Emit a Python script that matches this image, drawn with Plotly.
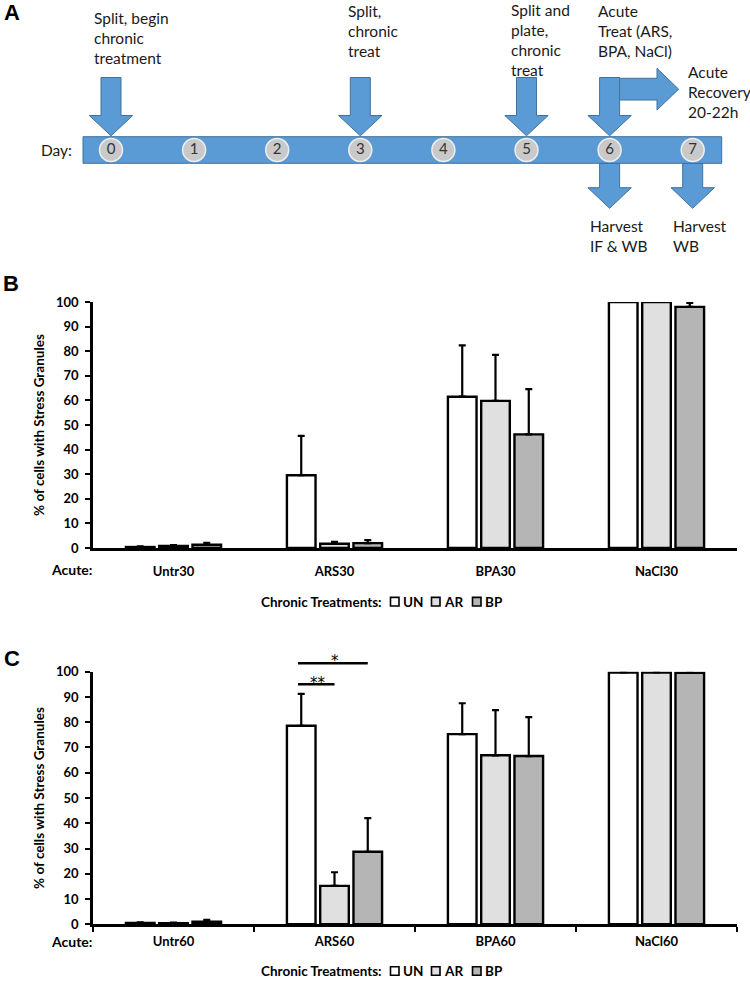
import plotly.graph_objects as go

W, H = 750, 987

# ---------------- data ----------------
days = [0, 1, 2, 3, 4, 5, 6, 7]
chronic_days = [0, 3, 5]
chronic_labels = ["Split, begin<br>chronic<br>treatment",
                  "Split,<br>chronic<br>treat",
                  "Split and<br>plate,<br>chronic<br>treat"]
acute_day = 6
acute_label = "Acute<br>Treat (ARS,<br>BPA, NaCl)"
recovery_label = "Acute<br>Recovery<br>20-22h"
harvest_days = [6, 7]
harvest_labels = ["Harvest<br>IF &amp; WB", "Harvest<br>WB"]

series = ["UN", "AR", "BP"]
series_colors = ["#FFFFFF", "#E0E0E0", "#B5B5B5"]

acute30 = ["Untr30", "ARS30", "BPA30", "NaCl30"]
un30 = [0.4, 29.6, 61.5, 100.0]
ar30 = [0.8, 1.7, 59.8, 100.0]
bp30 = [1.3, 2.0, 46.2, 98.0]
un30_err = [0.3, 16.0, 20.9, 0.0]
ar30_err = [0.4, 0.8, 18.7, 0.0]
bp30_err = [0.8, 1.2, 18.4, 1.6]

acute60 = ["Untr60", "ARS60", "BPA60", "NaCl60"]
un60 = [0.5, 78.6, 75.3, 99.7]
ar60 = [0.4, 15.2, 66.9, 99.7]
bp60 = [1.0, 28.7, 66.6, 99.6]
un60_err = [0.3, 12.6, 12.2, 0.0]
ar60_err = [0.3, 5.4, 17.9, 0.0]
bp60_err = [0.8, 13.3, 15.4, 0.0]

sig_category = "ARS60"
sig_pairs = [("UN", "AR", "**"), ("UN", "BP", "*")]
sig_levels = [95.0, 103.3]

yticks = list(range(0, 101, 10))

# ---------------- styling helpers ----------------
FONT = "Lato"
BLUE = "#5B9BD5"
BLUE_EDGE = "#41719C"
BARGAP = 0.38
BARGROUPGAP = 0.14


def xp(px):
    return px / W


def yp(py):
    return 1 - py / H


fig = go.Figure()

# ---------------- panel A: timeline ----------------
PPD = 83.1            # pixels per day
DAY0_PX = 111.0
A_H = 262.0
x3_range = [-DAY0_PX / PPD, (W - DAY0_PX) / PPD]


def dpx(px):
    return px / PPD


shapes = []
shapes.append(dict(type="rect", xref="x3", yref="y3", layer="below",
                   x0=days[0] - dpx(28), x1=days[-1] + dpx(29),
                   y0=136.7, y1=163.3,
                   fillcolor=BLUE, line=dict(color=BLUE_EDGE, width=1)))


def down_arrow(d, y_top, y_neck, y_tip, sw=10, hw=21.7):
    s, h = dpx(sw), dpx(hw)
    p = (f"M {d-s},{y_top} L {d+s},{y_top} L {d+s},{y_neck} L {d+h},{y_neck} "
         f"L {d},{y_tip} L {d-h},{y_neck} L {d-s},{y_neck} Z")
    return dict(type="path", xref="x3", yref="y3", path=p, layer="below",
                fillcolor=BLUE, line=dict(color=BLUE_EDGE, width=1))


d = acute_day
rb, rt = d + dpx(47.4), d + dpx(69)
p = (f"M {d},{78.3} L {rb},{78.3} L {rb},{68.3} L {rt},{89.2} "
     f"L {rb},{110} L {rb},{100} L {d},{100} Z")
shapes.append(dict(type="path", xref="x3", yref="y3", path=p, layer="below",
                   fillcolor=BLUE, line=dict(color=BLUE_EDGE, width=1)))

for dd in chronic_days + [acute_day]:
    shapes.append(down_arrow(dd, 77.5, 115.5, 135.8))
for dd in harvest_days:
    shapes.append(down_arrow(dd, 163.5, 187.7, 208.3))

fig.add_trace(go.Scatter(
    x=days, y=[150] * len(days), xaxis="x3", yaxis="y3",
    mode="markers+text", text=[str(v) for v in days],
    textposition="middle center",
    textfont=dict(family=FONT, size=15, color="#333333"),
    marker=dict(size=23, color="#C9C9C9", line=dict(color="#EEEEEE", width=1.5)),
    showlegend=False, hoverinfo="skip"))

annotations = []
TXT = dict(family=FONT, size=15.5, color="#1a1a1a")
label_tops = [7, 0, 0]
label_yshift = [0, 0, 1]
label_shift = [-19, -14, -18]
for dd, lab, top, ysh, sh in zip(chronic_days, chronic_labels, label_tops,
                                 label_yshift, label_shift):
    annotations.append(dict(x=dd, y=top, xref="x3", yref="y3", text=lab,
                            xanchor="left", yanchor="top", align="left",
                            xshift=sh, yshift=ysh, showarrow=False, font=TXT))
annotations.append(dict(x=acute_day, y=0, xref="x3", yref="y3", text=acute_label,
                        xanchor="left", yanchor="top", align="left", xshift=-14,
                        showarrow=False, font=TXT))
annotations.append(dict(x=acute_day, y=60.5, xref="x3", yref="y3", text=recovery_label,
                        xanchor="left", yanchor="top", align="left", xshift=76,
                        showarrow=False, font=TXT))
for dd, lab in zip(harvest_days, harvest_labels):
    annotations.append(dict(x=dd, y=215, xref="x3", yref="y3", text=lab,
                            xanchor="left", yanchor="top", align="left", xshift=-22,
                            showarrow=False, font=TXT))
annotations.append(dict(x=days[0], y=150, xref="x3", yref="y3", text="Day:",
                        xanchor="right", yanchor="middle", xshift=-37,
                        showarrow=False, font=TXT))

for letter, px_, py_ in [("A", 12, 13), ("B", 11, 283), ("C", 12, 658)]:
    annotations.append(dict(x=xp(px_), y=yp(py_), xref="paper", yref="paper",
                            text=letter, showarrow=False, xanchor="center",
                            yanchor="middle",
                            font=dict(family="Liberation Sans", size=22,
                                      color="black", weight="bold")))

# ---------------- panels B & C: bars ----------------
panels = [
    dict(cats=acute30, vals=[un30, ar30, bp30], errs=[un30_err, ar30_err, bp30_err],
         xa="x", ya="y", axis_px=548.0, top_px=302.0, acute_py=569, legend_py=601.7),
    dict(cats=acute60, vals=[un60, ar60, bp60], errs=[un60_err, ar60_err, bp60_err],
         xa="x2", ya="y2", axis_px=924.3, top_px=671.7, acute_py=941, legend_py=971),
]

for pn in panels:
    for s, col, v, e in zip(series, series_colors, pn["vals"], pn["errs"]):
        fig.add_trace(go.Bar(
            x=pn["cats"], y=v, name=s, xaxis=pn["xa"], yaxis=pn["ya"],
            marker=dict(color=col, line=dict(color="black", width=2.4)),
            error_y=dict(type="data", array=e, arrayminus=[0] * len(e),
                         symmetric=False, color="black", thickness=2.2, width=3.5),
            cliponaxis=False, showlegend=False))

    annotations.append(dict(x=xp(71), y=yp(pn["acute_py"]), xref="paper", yref="paper",
                            text="Acute:", showarrow=False, xanchor="center",
                            yanchor="middle",
                            font=dict(family=FONT, size=14, color="black", weight="bold")))
    ly = yp(pn["legend_py"])
    annotations.append(dict(x=xp(384), y=ly, xref="paper", yref="paper",
                            text="Chronic Treatments:", showarrow=False,
                            xanchor="right", yanchor="middle",
                            font=dict(family=FONT, size=13.5, color="black", weight="bold")))
    for i, (s, col) in enumerate(zip(series, series_colors)):
        sx = 390.5 + i * 41
        shapes.append(dict(type="rect", xref="paper", yref="paper",
                           x0=xp(sx), x1=xp(sx + 8.5),
                           y0=yp(pn["legend_py"] + 4.3), y1=yp(pn["legend_py"] - 4.3),
                           fillcolor=col, line=dict(color="black", width=1.6)))
        annotations.append(dict(x=xp(sx + 10), y=ly, xref="paper", yref="paper",
                                text=s, showarrow=False, xanchor="left",
                                yanchor="middle",
                                font=dict(family=FONT, size=13.5, color="black",
                                          weight="bold")))

cat_idx = acute60.index(sig_category)
slot = (1 - BARGAP) / len(series)
offs = {s: (i - (len(series) - 1) / 2) * slot for i, s in enumerate(series)}
text_lift = [2.8, 3.2]
for (a, b, star), lev, lift in zip(sig_pairs, sig_levels, text_lift):
    xa_, xb_ = cat_idx + offs[a], cat_idx + offs[b]
    shapes.append(dict(type="line", xref="x2", yref="y2 domain",
                       x0=xa_ - 0.02, x1=xb_, y0=lev / 100, y1=lev / 100,
                       line=dict(color="black", width=2.5)))
    annotations.append(dict(x=(xa_ + xb_) / 2, y=(lev + lift) / 100,
                            xref="x2", yref="y2 domain", text=star,
                            showarrow=False, xanchor="center", yanchor="middle",
                            yshift=-6,
                            font=dict(family="DejaVu Sans", size=15, color="black")))

tickfont = dict(family=FONT, size=13, color="black", weight="bold")
xdom = [xp(93), xp(737)]


def yaxis_cfg(pn, anchor):
    return dict(domain=[yp(pn["axis_px"]), yp(pn["top_px"])], anchor=anchor,
                automargin=False,
                range=[0, 100], tickvals=yticks, ticks="outside", ticklen=5,
                tickwidth=2, tickcolor="black", showline=True, linecolor="black",
                linewidth=2.5, showgrid=False, zeroline=False, tickfont=tickfont,
                ticklabelstandoff=4,
                title=dict(text="% of cells with Stress Granules", standoff=9,
                           font=dict(family=FONT, size=13.5, color="black",
                                     weight="bold")))


fig.update_layout(
    width=W, height=H,
    margin=dict(l=0, r=0, t=0, b=0, pad=0, autoexpand=False),
    paper_bgcolor="white", plot_bgcolor="white",
    barmode="group", bargap=BARGAP, bargroupgap=BARGROUPGAP,
    font=dict(family=FONT),
    showlegend=False,
    xaxis=dict(domain=xdom, anchor="y", type="category", range=[-0.5, 3.5],
               automargin=False,
               showline=True, linecolor="black", linewidth=2.5, ticks="",
               showgrid=False, tickfont=tickfont, ticklabelstandoff=10),
    yaxis=yaxis_cfg(panels[0], "x"),
    xaxis2=dict(domain=xdom, anchor="y2", type="category", range=[-0.5, 3.5],
                automargin=False,
                showline=True, linecolor="black", linewidth=2.5, ticks="outside",
                tickson="boundaries", ticklen=5, tickwidth=2, tickcolor="black",
                showgrid=False, tickfont=tickfont, ticklabelstandoff=3),
    yaxis2=yaxis_cfg(panels[1], "x2"),
    xaxis3=dict(domain=[0, 1], anchor="y3", range=x3_range, visible=False,
                automargin=False, fixedrange=True),
    yaxis3=dict(domain=[1 - A_H / H, 1], anchor="x3", range=[A_H, 0], visible=False,
                automargin=False, fixedrange=True),
    shapes=shapes,
    annotations=annotations,
)

fig.write_html(
    "out.html",
    config={"displayModeBar": False},
    post_script=("document.body.style.margin='0px';"
                 "document.body.style.padding='0px';"),
)
